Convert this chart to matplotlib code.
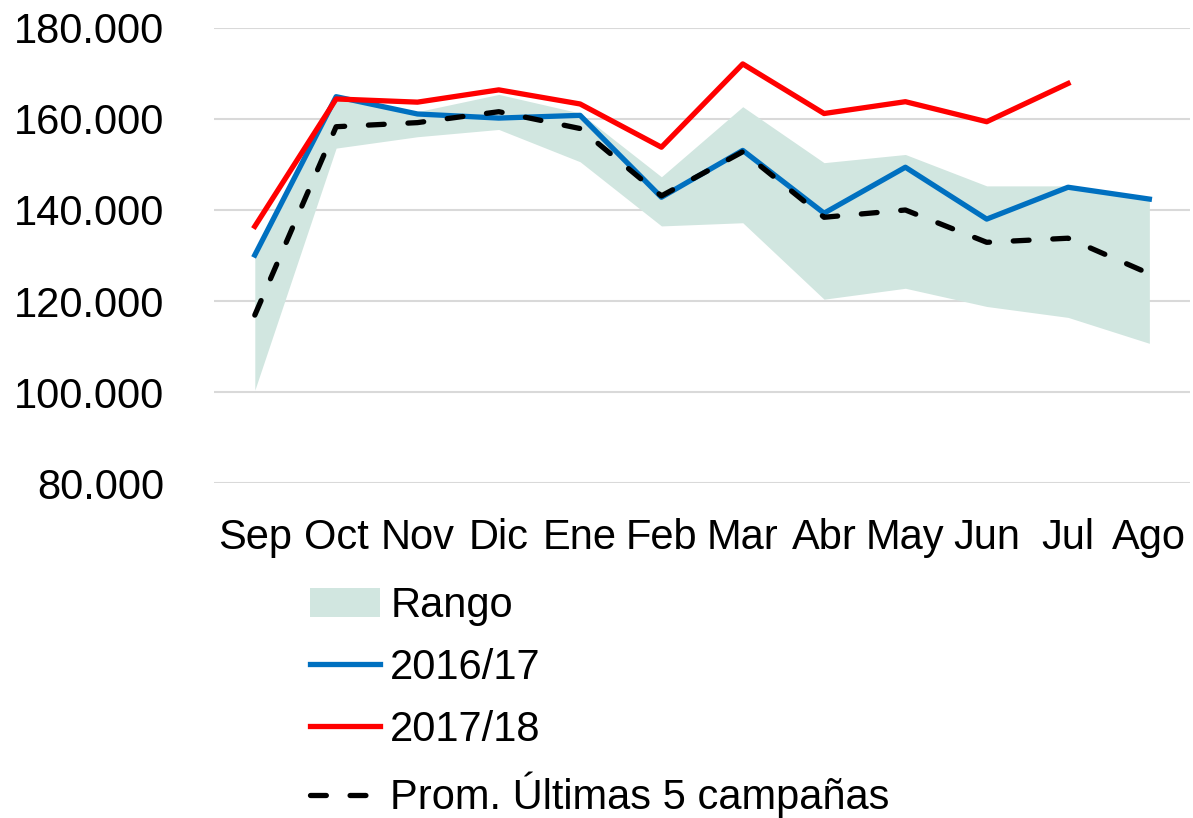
import matplotlib.pyplot as plt
from matplotlib.patches import Patch
from matplotlib.lines import Line2D

plt.rcParams['font.family'] = ['Liberation Sans', 'DejaVu Sans']

meses = ['Sep', 'Oct', 'Nov', 'Dic', 'Ene', 'Feb', 'Mar', 'Abr', 'May', 'Jun', 'Jul', 'Ago']

# rango (min / max de campañas anteriores)
rango_max = [130100, 164900, 161600, 165400, 161300, 147300, 162700, 150400, 152200, 145300, 145300, 142400]
rango_min = [100400, 153600, 156100, 157700, 150600, 136500, 137200, 120400, 122800, 118800, 116400, 110700]

c2016_17 = [130100, 164900, 161100, 160200, 160800, 142800, 153100, 139300, 149400, 138000, 145000, 142400]
c2017_18 = [136400, 164400, 163700, 166400, 163300, 153800, 172100, 161200, 163800, 159400, 167800]
prom5 = [116900, 158300, 159200, 161600, 157900, 143100, 152800, 138400, 140000, 132900, 133800, 126000]

FS = 30
LW = 3.8
DASH = (3, 4.5)

fig = plt.figure(figsize=(11.93, 8.18), dpi=100)
ax = fig.add_axes([0.1795, 0.4095, 0.818, 0.5563])

x = list(range(len(meses)))
ax.fill_between(x, rango_min, rango_max, color='#D1E6E0', linewidth=0, zorder=1)
ax.plot(x, c2016_17, color='#0070C0', lw=LW, zorder=3)
ax.plot(list(range(len(c2017_18))), c2017_18, color='#FF0000', lw=LW, zorder=4)
ax.plot(x, prom5, color='black', lw=LW, dashes=DASH, dash_capstyle='round', zorder=5)

ax.set_xlim(-0.5, len(meses) - 0.5)
ax.set_ylim(80000, 180000)
ax.set_yticks(range(80000, 180001, 20000))
ax.set_yticklabels([f'{v:,}'.replace(',', '.') for v in range(80000, 180001, 20000)])
ax.set_xticks(x)
ax.set_xticklabels(meses)
ax.grid(axis='y', color='#D9D9D9', lw=1.5, zorder=0)
ax.set_axisbelow(True)
for s in ax.spines.values():
    s.set_visible(False)
ax.tick_params(axis='both', length=0, labelsize=FS, colors='black')
ax.tick_params(axis='y', pad=36)
ax.tick_params(axis='x', pad=25)

handles = [
    Patch(facecolor='#D1E6E0', edgecolor='none', label='Rango'),
    Line2D([], [], color='#0070C0', lw=LW, label='2016/17'),
    Line2D([], [], color='#FF0000', lw=LW, label='2017/18'),
    Line2D([], [], color='black', lw=LW, dashes=DASH, dash_capstyle='round',
           label='Prom. Últimas 5 campañas'),
]
fig.legend(handles=handles, loc='upper left', bbox_to_anchor=(0.26, 0.284),
           frameon=False, fontsize=FS, handlelength=1.68, handletextpad=0.24,
           labelspacing=0.53, borderaxespad=0, borderpad=0)

fig.savefig('out.png', dpi=100)
